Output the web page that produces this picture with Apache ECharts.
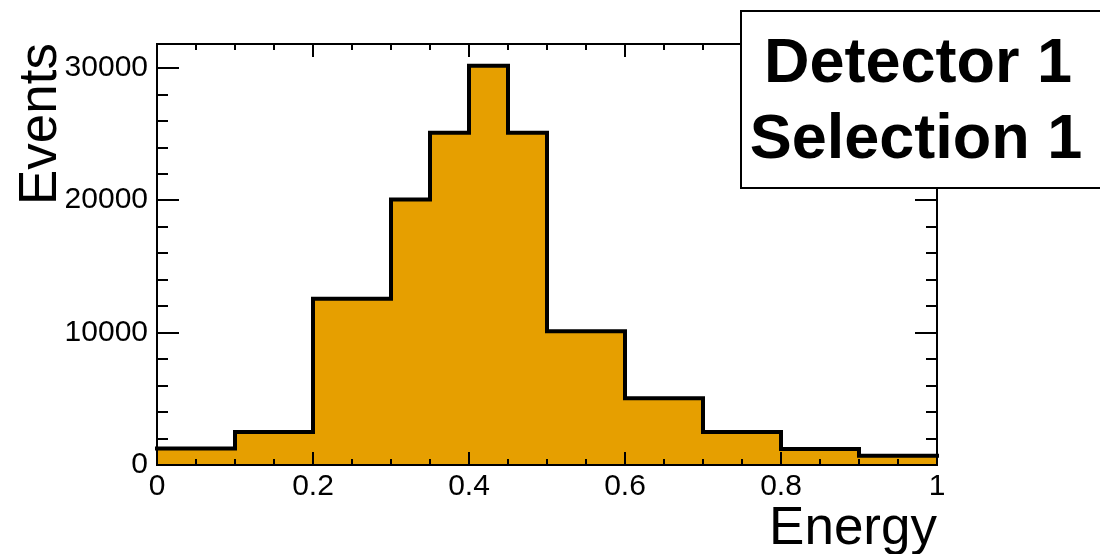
<!DOCTYPE html>
<html>
<head>
<meta charset="utf-8">
<script src="https://cdn.jsdelivr.net/npm/echarts@6/dist/echarts.min.js"></script>
<style>
html,body{margin:0;padding:0;background:#fff;}
#chart{width:1100px;height:554px;}
</style>
</head>
<body>
<div id="chart"></div>
<script>
// ---- data ----
const binEdges = [0, 0.1, 0.2, 0.3, 0.35, 0.4, 0.45, 0.5, 0.6, 0.7, 0.8, 0.9, 1.0];
const counts = [1250, 2500, 12550, 20050, 25100, 30150, 25100, 10100, 5050, 2500, 1200, 700];
const xTickLabels = ['0', '0.2', '0.4', '0.6', '0.8', '1'];
const yTickLabels = ['0', '10000', '20000', '30000'];
const xTitle = 'Energy';
const yTitle = 'Events';
const legendLines = ['Detector 1', 'Selection 1'];

// ---- build ----
const stepData = counts.map((c, i) => [binEdges[i], c]);
stepData.push([binEdges[binEdges.length - 1], counts[counts.length - 1]]);

const FONT = '"Liberation Sans", Arial, Helvetica, sans-serif';
const X_MIN = 0, X_MAX = 1, Y_MIN = 0, Y_MAX = 31800;

function xAx(pos, interval, len, labels) {
  return {
    type: 'value', position: pos, min: X_MIN, max: X_MAX, interval: interval, z: 10,
    axisLine: { show: true, onZero: false, lineStyle: { color: '#000', width: 2 } },
    axisTick: { show: true, inside: true, length: len, lineStyle: { color: '#000', width: 2 } },
    splitLine: { show: false },
    axisLabel: labels ? {
      show: true, margin: 7, color: '#000', fontFamily: FONT, fontSize: 30,
      showMaxLabel: true, showMinLabel: true,
      formatter: v => { const i = Math.round(v / 0.2); return Math.abs(v - i * 0.2) < 1e-6 ? xTickLabels[i] : ''; }
    } : { show: false }
  };
}
function yAx(pos, interval, len, labels) {
  return {
    type: 'value', position: pos, min: Y_MIN, max: Y_MAX, interval: interval, z: 10,
    axisLine: { show: true, onZero: false, lineStyle: { color: '#000', width: 2 } },
    axisTick: { show: true, inside: true, length: len, lineStyle: { color: '#000', width: 2 } },
    splitLine: { show: false },
    axisLabel: labels ? {
      show: true, margin: 9, color: '#000', fontFamily: FONT, fontSize: 30,
      showMaxLabel: false,
      formatter: v => { const i = Math.round(v / 10000); return (v % 10000 === 0 && yTickLabels[i] !== undefined) ? yTickLabels[i] : ''; }
    } : { show: false }
  };
}

const chart = echarts.init(document.getElementById('chart'), null, { renderer: 'canvas' });
chart.setOption({
  animation: false,
  backgroundColor: '#fff',
  grid: { left: 157, right: 163, top: 44, bottom: 89, containLabel: false },
  xAxis: [
    xAx('bottom', 0.2, 13, true),
    xAx('bottom', 0.05, 6, false),
    xAx('top', 0.2, 13, false),
    xAx('top', 0.05, 6, false)
  ],
  yAxis: [
    yAx('left', 10000, 22, true),
    yAx('left', 2000, 11, false),
    yAx('right', 10000, 22, false),
    yAx('right', 2000, 11, false)
  ],
  series: [{
    type: 'line',
    xAxisIndex: 0, yAxisIndex: 0,
    step: 'end',
    data: stepData,
    symbol: 'none',
    z: 2,
    lineStyle: { color: '#000', width: 4, cap: 'square', join: 'miter' },
    areaStyle: { color: '#E69F00', opacity: 1, origin: 'start' }
  }],
  graphic: [
    {
      type: 'text', z: 50,
      x: 41, y: 124, rotation: Math.PI / 2,
      style: { text: yTitle, font: '53px ' + FONT, fill: '#000', align: 'center', verticalAlign: 'middle' }
    },
    {
      type: 'text', z: 50,
      x: 937, y: 529,
      style: { text: xTitle, font: '53px ' + FONT, fill: '#000', align: 'right', verticalAlign: 'middle' }
    },
    {
      type: 'rect', z: 100,
      shape: { x: 741, y: 11, width: 400, height: 177 },
      style: { fill: '#fff', stroke: '#000', lineWidth: 2 }
    },
    {
      type: 'text', z: 101,
      x: 918, y: 65,
      style: { text: legendLines[0], font: 'bold 63px ' + FONT, fill: '#000', align: 'center', verticalAlign: 'middle' }
    },
    {
      type: 'text', z: 101,
      x: 916, y: 141,
      style: { text: legendLines[1], font: 'bold 63px ' + FONT, fill: '#000', align: 'center', verticalAlign: 'middle' }
    }
  ]
});
</script>
</body>
</html>
